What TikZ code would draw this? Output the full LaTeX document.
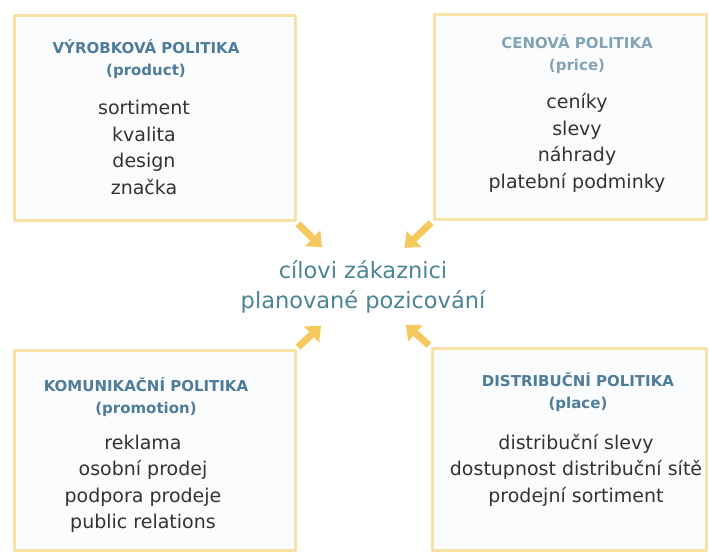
\documentclass[tikz,border=0pt]{standalone}
\usepackage{fontspec}
\setmainfont{DejaVu Sans}
\usepackage{tikz}
\usetikzlibrary{positioning,calc,arrows.meta}

\begin{document}
\begin{tikzpicture}[x=1pt,y=-1pt,line cap=round,line join=round]
  \definecolor{rimyellow}{HTML}{F7E1A4}
  \definecolor{boxwhite}{HTML}{FBFCFE}
  \definecolor{arrowyellow}{HTML}{F6C95F}
  \definecolor{headteal}{HTML}{4F7C98}
  \definecolor{goalteal}{HTML}{4A8495}
  \definecolor{itemgray}{HTML}{333333}

  \tikzset{
    mixbox/.style={draw=rimyellow,line width=3pt,fill=boxwhite,inner sep=0pt},
    headtext/.style={font=\fontsize{15}{22}\selectfont\bfseries,text=headteal,align=center},
    itemtext/.style={font=\fontsize{19}{26.5}\selectfont,text=itemgray,align=center},
    goaltext/.style={font=\fontsize{22.5}{30}\selectfont,text=goalteal,align=center},
    pull/.style={draw=arrowyellow,line width=7pt,line cap=butt,
      -{Triangle[length=13pt,width=21pt]},shorten <=2pt,shorten >=57pt}
  }

  \useasboundingbox (0,0) rectangle (709,553);

  % the four mix boxes
  \node[mixbox,minimum width=281pt,minimum height=205pt] (prod)  at (154.5,118.5) {};
  \node[mixbox,minimum width=272pt,minimum height=205pt] (price) at (570,117.5) {};
  \node[mixbox,minimum width=281pt,minimum height=200pt] (promo) at (154.5,450) {};
  \node[mixbox,minimum width=274pt,minimum height=202pt] (place) at (569,449) {};

  % headings
  \node[headtext] (prodhead)  at (146,59.5) {VÝROBKOVÁ POLITIKA\\(product)};
  \node[headtext,text=headteal!70!white] (pricehead) at (577,54) {CENOVÁ POLITIKA\\(price)};
  \node[headtext] (promohead) at (146,397.5) {KOMUNIKAČNÍ POLITIKA\\(promotion)};
  \node[headtext] (placehead) at (578,392) {DISTRIBUČNÍ POLITIKA\\(place)};

  % tools
  \node[itemtext] (prodlist)  at (144,147.5) {sortiment\\kvalita\\design\\značka};
  \node[itemtext] (pricelist) at (577,143) {ceníky\\slevy\\náhrady\\platební podminky};
  \node[itemtext] (promolist) at (143,484) {reklama\\osobní prodej\\podpora prodeje\\public relations};
  \node[itemtext] (placelist) at (576,470) {distribuční slevy\\dostupnost distribuční sítě\\prodejní sortiment};

  % target in the middle
  \node[goaltext] (goal) at (363,287) {cílovi zákaznici\\planované pozicování};

  % arrows into the middle
  \draw[pull] (prod.south east)  -- (goal.center);
  \draw[pull] (price.south west) -- (goal.center);
  \draw[pull] (promo.north east) -- (goal.center);
  \draw[pull] (place.north west) -- (goal.center);
\end{tikzpicture}
\end{document}
